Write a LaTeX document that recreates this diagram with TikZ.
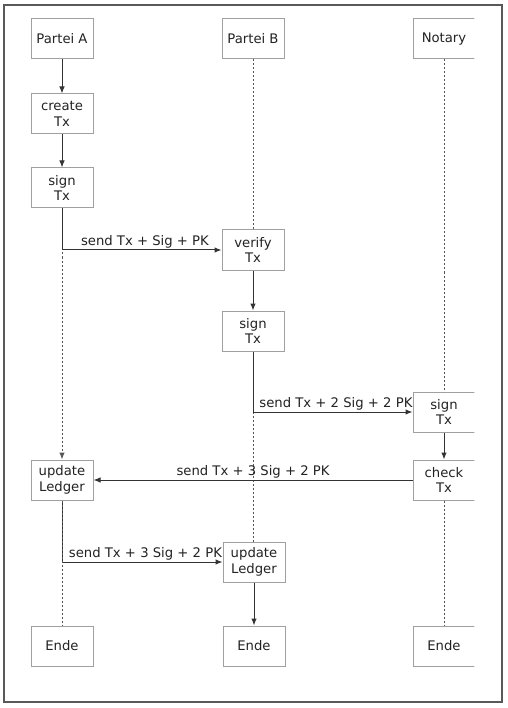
\documentclass[tikz,border=0pt]{standalone}
\usepackage{fontspec}
\setmainfont{DejaVu Sans}
\usetikzlibrary{arrows.meta}
\definecolor{boxgray}{HTML}{A0A0A0}
\definecolor{linegray}{HTML}{333333}
\definecolor{dashgray}{HTML}{555555}
\definecolor{txtgray}{HTML}{222222}
\begin{document}
\begin{tikzpicture}[x=1pt,y=-1pt,
  box/.style={draw=boxgray,line width=1pt,minimum width=62pt,minimum height=40pt,inner sep=0pt,align=center,text=txtgray,font=\fontsize{13.2}{15.5}\selectfont},
  arr/.style={draw=linegray,line width=1pt,-{Latex[length=7pt,width=5.5pt]}},
  dsh/.style={draw=dashgray,line width=1pt,dash pattern=on 2pt off 2pt},
  lbl/.style={above,inner sep=1.5pt,text=txtgray,font=\fontsize{13.2}{15.5}\selectfont}]
\useasboundingbox (0,0) rectangle (507,708);
\draw[draw=black!65,line width=1.2pt] (4,5) rectangle (502,702);
% nodes
\begin{scope}
\clip (0,0) rectangle (474.4,708);
\node[box] (pa) at (62,39) {Partei A};
\node[box] (pb) at (253,39) {Partei B};
\node[box] (pn) at (444,39) {Notary};
\node[box] (ca) at (62,114) {create\\Tx};
\node[box] (sa) at (62,188) {sign\\Tx};
\node[box] (vb) at (253,250) {verify\\Tx};
\node[box] (sb) at (253,331) {sign\\Tx};
\node[box] (sn) at (444,412) {sign\\Tx};
\node[box] (ua) at (62,480) {update\\Ledger};
\node[box] (cn) at (444,480) {check\\Tx};
\node[box] (ub) at (254,562) {update\\Ledger};
\node[box] (ea) at (62,646) {Ende};
\node[box] (eb) at (254,646) {Ende};
\node[box] (en) at (444,646) {Ende};
\end{scope}
% connectors
\draw[arr] (pa) -- (ca);
\draw[arr] (ca) -- (sa);
\draw[dsh,-{Latex[length=7pt,width=5.5pt]}] (sa) -- (ua);
\draw[arr] (sa.south) |- node[lbl,pos=0.76] {send Tx + Sig + PK} (vb.west);
\draw[dsh] (pb) -- (vb);
\draw[arr] (vb) -- (sb);
\draw[dsh] (sb.south) -- (sb.south |- ub.north);
\draw[arr] (sb.south) |- node[lbl,pos=0.76] {send Tx + 2 Sig + 2 PK} (sn.west);
\draw[dsh] (pn) -- (sn);
\draw[arr] (sn) -- (cn);
\draw[arr] (cn) -- node[lbl] {send Tx + 3 Sig + 2 PK} (ua);
\draw[arr] (ua.south) |- node[lbl,pos=0.76] {send Tx + 3 Sig + 2 PK} (ub.west);
\draw[dsh] (ua) -- (ea);
\draw[arr] (ub) -- (eb);
\draw[dsh] (cn) -- (en);
\end{tikzpicture}
\end{document}
